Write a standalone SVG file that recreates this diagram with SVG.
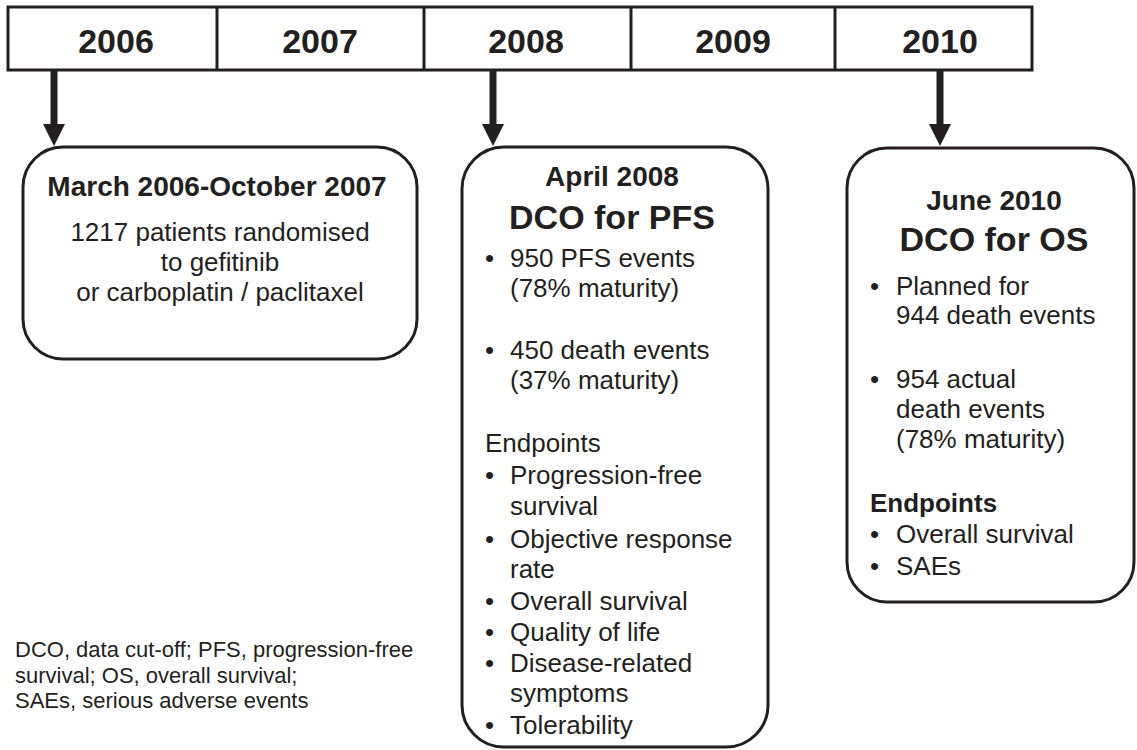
<svg xmlns="http://www.w3.org/2000/svg" width="1137" height="750" viewBox="0 0 1137 750">
<defs>
<style>
.ln{fill:none;stroke:#231f20;stroke-width:3}
.box{fill:#fff;stroke:#231f20;stroke-width:3}
text{font-family:"Liberation Sans",Arial,sans-serif;fill:#231f20}
.yr{font-size:34px;font-weight:bold;text-anchor:middle}
.h2{font-size:28px;font-weight:bold;text-anchor:middle}
.h1{font-size:34px;font-weight:bold;text-anchor:middle}
.b{font-size:26px}
.bc{font-size:26px;text-anchor:middle}
.fn{font-size:22px}
.shaft{stroke:#231f20;stroke-width:7}
.head{fill:#231f20}
</style>
</defs>
<rect width="1137" height="750" fill="#fff"/>
<g id="timeline">
<rect class="box" x="8" y="7" width="1024" height="63"/>
<line class="ln" x1="217" y1="7" x2="217" y2="70"/>
<line class="ln" x1="424" y1="7" x2="424" y2="70"/>
<line class="ln" x1="631" y1="7" x2="631" y2="70"/>
<line class="ln" x1="835" y1="7" x2="835" y2="70"/>
<text class="yr" x="116" y="53">2006</text>
<text class="yr" x="320" y="53">2007</text>
<text class="yr" x="526" y="53">2008</text>
<text class="yr" x="733" y="53">2009</text>
<text class="yr" x="940" y="53">2010</text>
</g>
<g id="connectors">
<line class="shaft" x1="54" y1="70" x2="54" y2="127"/>
<polygon class="head" points="43,124 65,124 54,146"/>
<line class="shaft" x1="493" y1="70" x2="493" y2="127"/>
<polygon class="head" points="482,124 504,124 493,146"/>
<line class="shaft" x1="940" y1="70" x2="940" y2="127"/>
<polygon class="head" points="929,124 951,124 940,146"/>
</g>
<g id="node-enrolment">
<rect class="box" x="23" y="147" width="394" height="212" rx="40" ry="40"/>
<text class="h2" x="217" y="196">March 2006-October 2007</text>
<text class="bc" x="220" y="241">1217 patients randomised</text>
<text class="bc" x="220" y="271">to gefitinib</text>
<text class="bc" x="220" y="301">or carboplatin / paclitaxel</text>
</g>
<g id="node-pfs">
<rect class="box" x="462" y="147" width="306" height="600" rx="42" ry="42"/>
<text class="h2" x="612" y="186">April 2008</text>
<text class="h1" x="612" y="229">DCO for PFS</text>
<text class="b" x="485" y="267">•</text><text class="b" x="510" y="267">950 PFS events</text>
<text class="b" x="510" y="297">(78% maturity)</text>
<text class="b" x="485" y="359">•</text><text class="b" x="510" y="359">450 death events</text>
<text class="b" x="510" y="389">(37% maturity)</text>
<text class="b" x="485" y="452">Endpoints</text>
<text class="b" x="485" y="484">•</text><text class="b" x="510" y="484">Progression-free</text>
<text class="b" x="510" y="515">survival</text>
<text class="b" x="485" y="548">•</text><text class="b" x="510" y="548">Objective response</text>
<text class="b" x="510" y="578">rate</text>
<text class="b" x="485" y="610">•</text><text class="b" x="510" y="610">Overall survival</text>
<text class="b" x="485" y="641">•</text><text class="b" x="510" y="641">Quality of life</text>
<text class="b" x="485" y="672">•</text><text class="b" x="510" y="672">Disease-related</text>
<text class="b" x="510" y="702">symptoms</text>
<text class="b" x="485" y="734">•</text><text class="b" x="510" y="734">Tolerability</text>
</g>
<g id="node-os">
<rect class="box" x="847" y="148" width="287" height="454" rx="40" ry="40"/>
<text class="h2" x="994" y="210">June 2010</text>
<text class="h1" x="994" y="251">DCO for OS</text>
<text class="b" x="870" y="295">•</text><text class="b" x="896" y="295">Planned for</text>
<text class="b" x="896" y="324">944 death events</text>
<text class="b" x="870" y="388">•</text><text class="b" x="896" y="388">954 actual</text>
<text class="b" x="896" y="418">death events</text>
<text class="b" x="896" y="448">(78% maturity)</text>
<text class="b" x="870" y="512" font-weight="bold">Endpoints</text>
<text class="b" x="870" y="543">•</text><text class="b" x="896" y="543">Overall survival</text>
<text class="b" x="870" y="575">•</text><text class="b" x="896" y="575">SAEs</text>
</g>
<g id="footnote">
<text class="fn" x="15" y="657">DCO, data cut-off; PFS, progression-free</text>
<text class="fn" x="15" y="683">survival; OS, overall survival;</text>
<text class="fn" x="15" y="708">SAEs, serious adverse events</text>
</g>
</svg>
